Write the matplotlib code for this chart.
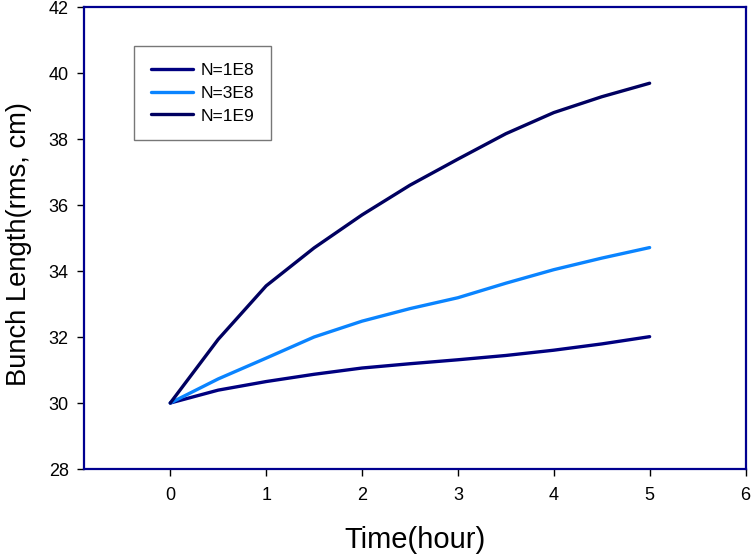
import matplotlib
matplotlib.use('Agg')
import matplotlib.pyplot as plt

plt.rcParams['font.family'] = ['Liberation Sans', 'DejaVu Sans']

# values at half-hour steps
hours = [0, 0.5, 1, 1.5, 2, 2.5, 3, 3.5, 4, 4.5, 5]
n_1e8 = [30.0, 30.39, 30.65, 30.87, 31.06, 31.19, 31.31, 31.44, 31.6, 31.79, 32.01]
n_3e8 = [30.0, 30.73, 31.36, 32.0, 32.48, 32.86, 33.19, 33.63, 34.04, 34.39, 34.71]
n_1e9 = [30.0, 31.93, 33.55, 34.7, 35.7, 36.6, 37.39, 38.16, 38.8, 39.28, 39.69]

fig = plt.figure(figsize=(7.51, 5.57), dpi=100)
ax = fig.add_axes([84/751, 1 - 469/557, (745.5 - 84)/751, (469 - 7)/557])

ax.plot(hours, n_1e8, color='#000080', lw=2.4, label='N=1E8', solid_capstyle='round', solid_joinstyle='round')
ax.plot(hours, n_3e8, color='#0a84ff', lw=2.4, label='N=3E8', solid_capstyle='round', solid_joinstyle='round')
ax.plot(hours, n_1e9, color='#000060', lw=2.4, label='N=1E9', solid_capstyle='round', solid_joinstyle='round')

ax.set_xlim(-0.9, 6)
ax.set_ylim(28, 42)
ax.set_xticks(range(0, 7))
ax.set_yticks(range(28, 43, 2))
ax.tick_params(direction='out', length=5, width=1, labelsize=13, colors='black')
ax.tick_params(axis='x', pad=8)
ax.tick_params(axis='y', pad=6)
for s in ax.spines.values():
    s.set_color('#000090')
    s.set_linewidth(1.6)

ax.set_xlabel('Time(hour)', fontsize=21, labelpad=16)
ax.set_ylabel('Bunch Length(rms, cm)', fontsize=19.7)
ax.yaxis.set_label_coords(-0.078, 0.488)

leg = ax.legend(loc='upper left', bbox_to_anchor=(134/751, 1 - 46/557),
                bbox_transform=fig.transFigure, fontsize=12.5, frameon=True,
                fancybox=False, borderaxespad=0, handlelength=2.4,
                handletextpad=0.45, labelspacing=0.44, borderpad=0.97)
leg.get_frame().set_edgecolor('#555555')
leg.get_frame().set_linewidth(1.0)

fig.savefig('out.png', dpi=100)
